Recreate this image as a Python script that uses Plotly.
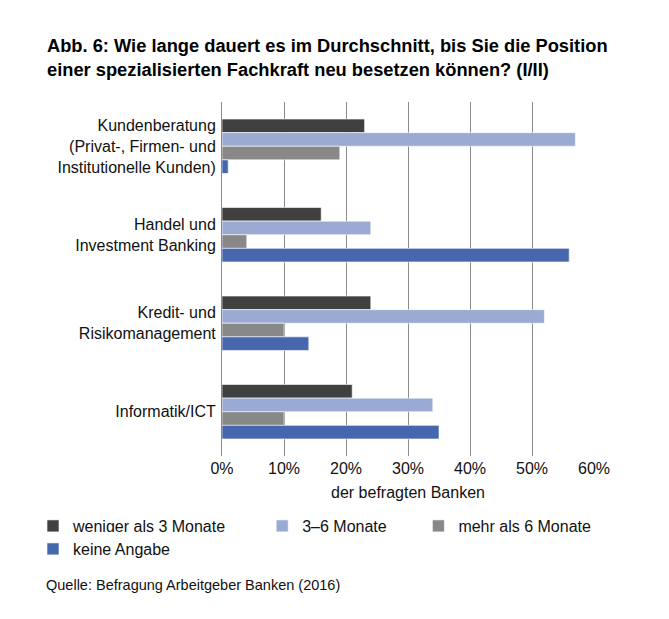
import plotly.graph_objects as go

# Kategorien (von oben nach unten)
categories = [
    'Kundenberatung<br>(Privat-, Firmen- und<br>Institutionelle Kunden)',
    'Handel und<br>Investment Banking',
    'Kredit- und<br>Risikomanagement',
    'Informatik/ICT',
]

# Anteile der befragten Banken in %
weniger_3 = [23, 16, 24, 21]
monate_3_6 = [57, 24, 52, 34]
mehr_6 = [19, 4, 10, 10]
keine_angabe = [1, 56, 14, 35]

series_names = ['weniger als 3 Monate', '3–6 Monate', 'mehr als 6 Monate', 'keine Angabe']
x_ticks = [0, 10, 20, 30, 40, 50, 60]
x_labels = ['0%', '10%', '20%', '30%', '40%', '50%', '60%']

colors = ['#404040', '#9aaad3', '#888888', '#4666ad']
# Abstand zwischen den Legendeneinträgen (geschützte Leerzeichen)
pads = ['\u00a0' * 7, '\u00a0' * 6, '', '']
legends = ['legend', 'legend', 'legend', 'legend2']

W, H = 669, 619
L, R, T, B = 214, 83, 94, 171
plot_h = H - T - B
plot_w = W - L - R


def px_x(x):
    return (x - L) / plot_w


def px_y(y):
    return (H - B - y) / plot_h


fig = go.Figure()
series = [weniger_3, monate_3_6, mehr_6, keine_angabe]
for name, vals, col, pad, lg in zip(series_names, series, colors, pads, legends):
    fig.add_trace(go.Bar(
        y=categories, x=vals, name=name + pad, orientation='h',
        marker=dict(color=col, line=dict(color='white', width=0.6)),
        legend=lg,
    ))

legend_style = dict(
    orientation='h', xanchor='left', yanchor='top',
    font=dict(size=16), traceorder='normal',
    itemclick=False, tracegroupgap=0, borderwidth=0,
)

fig.update_layout(
    width=W, height=H,
    margin=dict(l=L, r=R, t=T, b=B),
    paper_bgcolor='white', plot_bgcolor='white',
    font=dict(family='Liberation Sans, Arial, sans-serif', size=16, color='#111'),
    barmode='group', bargap=0.385, bargroupgap=0,
    title=dict(
        text='<b>Abb. 6: Wie lange dauert es im Durchschnitt, bis Sie die Position<br>'
             'einer spezialisierten Fachkraft neu besetzen können? (I/II)</b>',
        x=39 / W, xanchor='left', xref='container',
        y=1 - 44 / H, yanchor='top', yref='container',
        font=dict(size=18.3, color='#000'),
    ),
    legend=dict(x=px_x(25), y=px_y(501), **legend_style),
    legend2=dict(x=px_x(25), y=px_y(524), **legend_style),
    showlegend=True,
)

fig.update_xaxes(
    range=[0, 60], tickvals=x_ticks, ticktext=x_labels,
    showgrid=True, gridcolor='#8a8a8a', gridwidth=1,
    zeroline=False, showline=False,
    tickfont=dict(size=16), ticks='', ticklabelstandoff=1,
    title=dict(text='der befragten Banken', font=dict(size=16), standoff=10),
    fixedrange=True,
)
fig.update_yaxes(
    autorange='reversed', showgrid=False, zeroline=False,
    showline=True, linecolor='#8a8a8a', linewidth=1,
    tickfont=dict(size=16), ticks='', ticklabelstandoff=2,
    fixedrange=True,
)

fig.add_annotation(
    text='Quelle: Befragung Arbeitgeber Banken (2016)',
    xref='paper', yref='paper', x=px_x(36), xanchor='left',
    y=px_y(577), yanchor='middle',
    showarrow=False, font=dict(size=14.5, color='#111'),
)

fig.write_html('out.html')
